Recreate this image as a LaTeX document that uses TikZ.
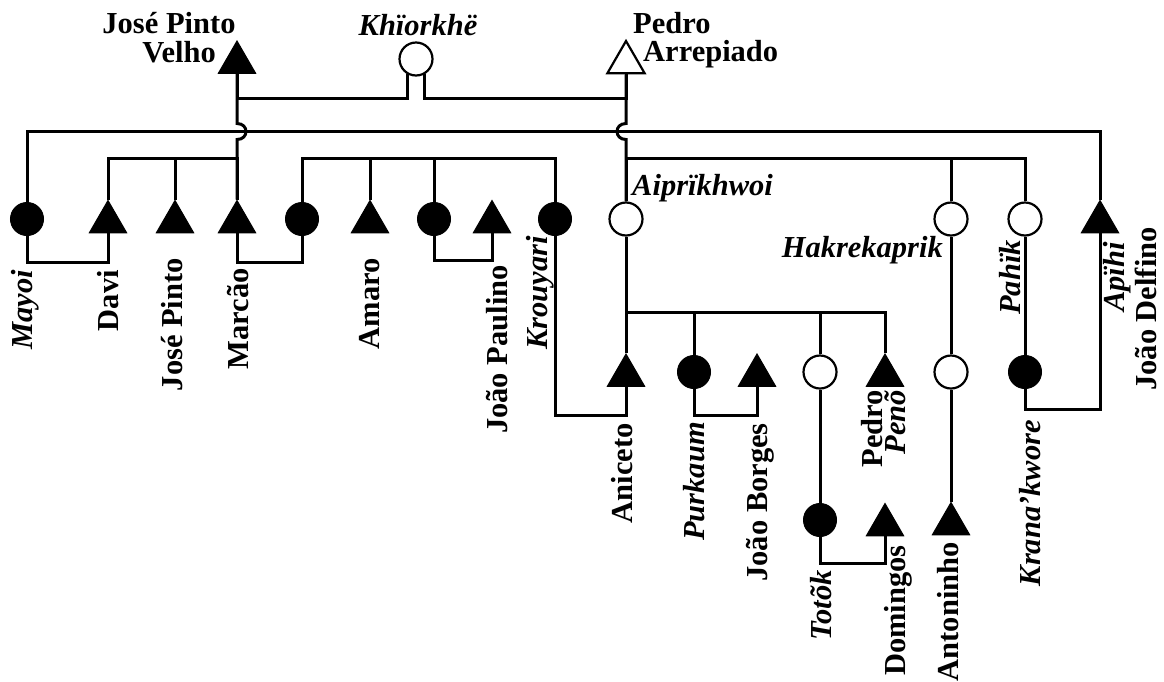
\documentclass[tikz,border=0pt]{standalone}
\usepackage{fontspec}
\setmainfont{Liberation Serif}
\usepackage{tikz}
\usetikzlibrary{shapes.geometric}
\newcommand{\namesize}{\fontsize{30.5}{30}\selectfont}
\tikzstyle{man} = [regular polygon,regular polygon sides=3,fill=black,draw=black,line width=1pt,inner sep=0pt,minimum size=43pt]
\tikzstyle{oman} = [man,fill=white,line width=2.2pt]
\tikzstyle{woman} = [circle,fill=black,draw=black,line width=1pt,inner sep=0pt,minimum size=33pt]
\tikzstyle{owoman} = [woman,fill=white,line width=2.2pt]
\tikzstyle{line} = [line width=3pt]
\tikzstyle{lbl} = [inner sep=0pt,font=\bfseries\namesize]
\tikzstyle{ilbl} = [inner sep=0pt,font=\bfseries\itshape\namesize]
\tikzstyle{vlbl} = [lbl,rotate=90,anchor=east]
\tikzstyle{vilbl} = [ilbl,rotate=90,anchor=east]
\tikzstyle{hop} = [distance=12pt]

\begin{document}
\begin{tikzpicture}[x=1pt, y=-1pt]
    \useasboundingbox (0,0) rectangle (1164,681);
    % first generation
    \node[man] (jpv) at (237,62.5) {};
    \node[owoman] (kh) at (416,59) {};
    \node[oman] (pa) at (626,62.5) {};

    % second generation
    \node[woman] (mayoi) at (27,219) {};
    \node[man] (davi) at (108,222) {};
    \node[man] (jp) at (175,222) {};
    \node[man] (marcao) at (237,222) {};
    \node[woman] (marcaowife) at (302,219) {};
    \node[man] (amaro) at (370,222) {};
    \node[woman] (paulinowife) at (434,219) {};
    \node[man] (paulino) at (492,222) {};
    \node[woman] (krouyari) at (555,219) {};
    \node[owoman] (aipri) at (626,219) {};
    \node[owoman] (hakre) at (951,219) {};
    \node[owoman] (pahik) at (1025,219) {};
    \node[man] (apihi) at (1100,222) {};

    % third generation
    \node[man] (aniceto) at (626,375.5) {};
    \node[woman] (purkaum) at (694,372) {};
    \node[man] (borges) at (757,375.5) {};
    \node[owoman] (totokmother) at (820,372) {};
    \node[man] (peno) at (885,375.5) {};
    \node[owoman] (hakredaughter) at (951,372) {};
    \node[woman] (krana) at (1025,372) {};

    % fourth generation
    \node[woman] (totok) at (820,520) {};
    \node[man] (domingos) at (885,525) {};
    \node[man] (antoninho) at (951,524) {};

    % names
    \node[lbl, anchor=base] (jpvname) at (169,33) {José Pinto};
    \node[lbl, anchor=base] (jpvname2) at (179,62) {Velho};
    \node[ilbl, anchor=base] (khname) at (418,35) {Khïorkhë};
    \node[lbl, anchor=base west] (paname) at (633,33) {Pedro};
    \node[lbl, anchor=base west] (paname2) at (643,61) {Arrepiado};
    \node[ilbl, anchor=base west] (aipriname) at (632,195) {Aiprïkhwoi};
    \node[ilbl, anchor=base east] (hakrename) at (943,257) {Hakrekaprik};
    \node[vilbl] (mayoiname) at (25,270) {Mayoi};
    \node[vlbl] (daviname) at (108,270) {Davi};
    \node[vlbl] (jpname) at (172,258) {José Pinto};
    \node[vlbl] (marcaoname) at (238,268) {Marcão};
    \node[vlbl] (amaroname) at (370,258) {Amaro};
    \node[vlbl] (paulinoname) at (497,265) {João Paulino};
    \node[vilbl] (krouyariname) at (540,236) {Krouyari};
    \node[vilbl] (pahikname) at (1010,240) {Pahïk};
    \node[vilbl] (apihiname) at (1117,242) {Apïhi};
    \node[vlbl] (apihiname2) at (1146,227) {João Delfino};
    \node[vlbl] (anicetoname) at (622,423) {Aniceto};
    \node[vilbl] (purkaumname) at (694,422) {Purkaum};
    \node[vlbl] (borgesname) at (760,423) {João Borges};
    \node[vlbl] (penoname) at (872,390) {Pedro};
    \node[vilbl] (penoname2) at (895,390) {Penõ};
    \node[vilbl] (totokname) at (821,570) {Totõk};
    \node[vlbl] (domingosname) at (898,545) {Domingos};
    \node[vlbl] (antoninhoname) at (948,542) {Antoninho};
    \node[vilbl] (krananame) at (1030,420) {Krana’kwore};

    % now link the nodes
    \draw[line] (jpv) -- ++(0,36) -| (kh.-119);
    \draw[line] (pa) -- ++(0,36) -| (kh.-61);
    \draw[line] (jpv) -- ++(0,61) to[out=0,in=0,hop] ++(0,16) -- (marcao);
    \draw[line] (pa) -- ++(0,61) to[out=180,in=180,hop] ++(0,16) -- (aipri);
    \draw[line] (mayoi) -- ++(0,-88) -| (apihi);
    \draw[line] (davi) -- ++(0,-64) -| (marcao);
    \draw[line] (jp) -- ++(0,-64);
    \draw[line] (marcaowife) -- ++(0,-61) -| (krouyari);
    \draw[line] (amaro) -- ++(0,-64);
    \draw[line] (paulinowife) -- ++(0,-61);
    \draw[line] (aipri) -- ++(0,-61) -| (pahik);
    \draw[line] (hakre) -- ++(0,-61);

    % marriages
    \draw[line] (mayoi) -- ++(0,43) -| (davi);
    \draw[line] (marcao) -- ++(0,40) -| (marcaowife);
    \draw[line] (paulinowife) -- ++(0,41) -| (paulino);
    \draw[line] (krouyari) -- ++(0,196) -| (aniceto);
    \draw[line] (purkaum) -- ++(0,43) -| (borges);
    \draw[line] (totok) -- ++(0,43) -| (domingos);
    \draw[line] (krana) -- ++(0,37) -| (apihi);

    % descent
    \draw[line] (aipri) -- (aniceto);
    \draw[line] (aniceto) -- ++(0,-63) -| (peno);
    \draw[line] (purkaum) -- ++(0,-60);
    \draw[line] (totokmother) -- ++(0,-60);
    \draw[line] (totokmother) -- (totok);
    \draw[line] (hakre) -- (hakredaughter);
    \draw[line] (hakredaughter) -- (antoninho);
    \draw[line] (pahik) -- (krana);
\end{tikzpicture}
\end{document}
